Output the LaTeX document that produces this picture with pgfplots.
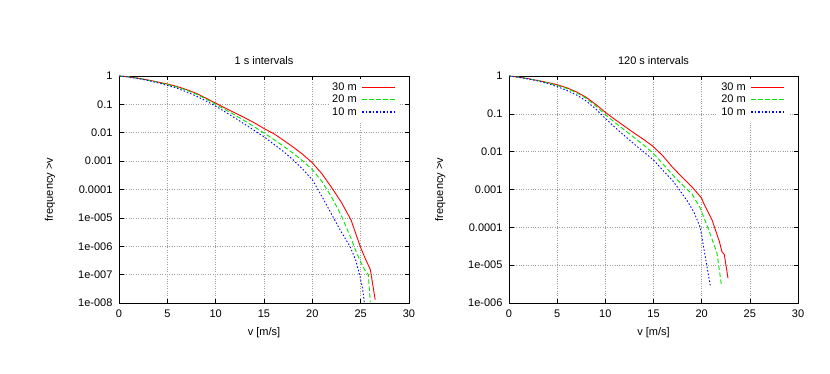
\documentclass[border=0pt]{standalone}
\usepackage{pgfplots}
\pgfplotsset{compat=1.18}
\usepackage{fontspec}
\setmainfont{Liberation Sans}
\definecolor{gpred}{rgb}{1,0,0}
\definecolor{gpgreen}{rgb}{0,0.9,0}
\definecolor{gpblue}{rgb}{0,0,1}
\pgfplotstableread{
v f
0 1
1 0.933
2 0.832
3 0.724
4 0.617
5 0.525
6 0.427
7 0.331
8 0.245
9 0.166
10 0.110
11 0.0741
12 0.0501
13 0.0339
14 0.0224
15 0.0141
16 0.00933
17 0.00550
18 0.00316
19 0.00174
20 0.000871
21 0.000355
22 0.000117
23 3.55e-5
24 8.51e-6
25 8.91e-7
25.5 3.55e-7
26 1.51e-7
26.5 1.32e-8
}\Lred
\pgfplotstableread{
v f
0 1
1 0.933
2 0.832
3 0.708
4 0.603
5 0.501
6 0.407
7 0.316
8 0.229
9 0.155
10 0.100
11 0.0646
12 0.0417
13 0.0263
14 0.0162
15 0.00977
16 0.00589
17 0.00339
18 0.00191
19 0.00102
20 0.000501
21 0.000191
22 5.37e-5
23 1.20e-5
24 1.91e-6
24.6 5.62e-7
25.0 2.82e-7
25.37 1.55e-7
25.79 1.00e-7
26.0 1.07e-8
}\Lgreen
\pgfplotstableread{
v f
0 1
1 0.923
2 0.813
3 0.692
4 0.575
5 0.468
6 0.372
7 0.275
8 0.195
9 0.132
10 0.0871
11 0.0537
12 0.0331
13 0.0200
14 0.0120
15 0.00724
16 0.00398
17 0.00219
18 0.00112
19 0.000525
20 0.000219
21 5.62e-5
22 1.32e-5
23 3.16e-6
23.9 9.77e-7
24.5 3.16e-7
24.93 8.51e-8
25.2 3.16e-8
25.38 1.07e-8
}\Lblue
\pgfplotstableread{
v f
0 1
1 0.933
2 0.851
3 0.759
4 0.676
5 0.589
6 0.490
7 0.380
8 0.275
9 0.178
10 0.110
11 0.0708
12 0.0468
13 0.0309
14 0.0209
15 0.0135
16 0.00759
17 0.00380
18 0.00209
19 0.00117
20 0.000589
20.2 0.000437
21.07 0.000158
21.83 4.27e-5
22.1 2.29e-5
22.35 1.91e-5
22.73 4.57e-6
}\Rred
\pgfplotstableread{
v f
0 1
1 0.933
2 0.851
3 0.759
4 0.661
5 0.562
6 0.468
7 0.363
8 0.257
9 0.162
10 0.0955
11 0.0589
12 0.0372
13 0.0234
14 0.0148
15 0.00891
16 0.00468
17 0.00240
18 0.00132
19 0.000759
19.85 0.000324
20.72 8.71e-5
21.59 2.09e-5
22.04 3.09e-6
}\Rgreen
\pgfplotstableread{
v f
0 1
1 0.923
2 0.832
3 0.741
4 0.631
5 0.525
6 0.417
7 0.316
8 0.219
9 0.135
10 0.0759
11 0.0437
12 0.0263
13 0.0158
14 0.00977
15 0.00603
16 0.00316
17 0.00170
17.6 0.00105
18.5 0.000501
19.2 0.000251
19.85 0.0001
20.37 1.70e-5
20.9 2.88e-6
}\Rblue
\tikzset{
  gred/.style={color=gpred, solid, line width=0.9pt},
  ggreen/.style={color=gpgreen, dash pattern=on 4.5pt off 2.5pt, line width=0.9pt},
  gblue/.style={color=gpblue, dash pattern=on 1.5pt off 2pt, line width=0.9pt},
}
\pgfplotsset{
  myax/.style={
    scale only axis, width=290pt, height=227pt, anchor=south west,
    font=\fontsize{11}{13}\selectfont,
    xmin=0, xmax=30, ymax=1,
    xtick={0,5,10,15,20,25,30}, xticklabels={0,5,10,15,20,25,30},
    grid=major, major grid style={gray!75, dotted, line width=0.6pt},
    axis line style={line width=0.8pt},
    tick style={black, line width=0.6pt}, major tick length=4.5pt, minor tick length=2.5pt,
    tick align=inside,
    /pgf/number format/assume math mode=true,
    xlabel={v [m/s]}, ylabel={frequency >v},
    xlabel style={at={(axis description cs:0.5,-0.1322)}, anchor=center},
    ylabel style={at={(axis description cs:-0.2379,0.5)}, anchor=center},
    title style={at={(axis description cs:0.5,1.0749)}, anchor=center, yshift=-8pt},
    yticklabel style={xshift=-3pt}, xticklabel style={yshift=-3pt},
    legend style={at={(1,1)}, anchor=north east,
      xshift=-11pt, yshift=-3pt, legend cell align=right,
      draw=white, fill=white, inner sep=2pt, column sep=3.5pt,
      nodes={inner sep=1.2pt, text height=8pt, text depth=2pt},
      font=\fontsize{11}{13}\selectfont},
    legend plot pos=right,
  },
  lgred/.style={legend image code/.code={\draw[draw=gpred, solid, line width=1.4pt] (0pt,0pt) -- (33pt,0pt);}},
  lggreen/.style={legend image code/.code={\draw[draw=gpgreen, dash pattern=on 4.5pt off 2.5pt, line width=1.4pt] (0pt,0pt) -- (33pt,0pt);}},
  lgblue/.style={legend image code/.code={\draw[draw=gpblue, dash pattern=on 1.5pt off 2pt, line width=1.4pt] (0pt,0pt) -- (33pt,0pt);}},
}
\begin{document}
\begin{tikzpicture}
\useasboundingbox (0,0) rectangle (830pt,374pt);
\begin{semilogyaxis}[myax, at={(119pt,71pt)}, ymin=1e-8,
  title={1 s intervals},
  ytick={1,0.1,0.01,0.001,0.0001,1e-5,1e-6,1e-7,1e-8},
  yticklabels={1,0.1,0.01,0.001,0.0001,1e-005,1e-006,1e-007,1e-008}]
\addlegendimage{lgred}
\addlegendentry{30 m}
\addlegendimage{lggreen}
\addlegendentry{20 m}
\addlegendimage{lgblue}
\addlegendentry{10 m}
\addplot[gred, forget plot] table[x=v,y=f] {\Lred};
\addplot[ggreen, forget plot] table[x=v,y=f] {\Lgreen};
\addplot[gblue, forget plot] table[x=v,y=f] {\Lblue};
\end{semilogyaxis}
\begin{semilogyaxis}[myax, at={(509pt,71pt)}, width=289pt, ymin=1e-6,
  title={120 s intervals},
  ytick={1,0.1,0.01,0.001,0.0001,1e-5,1e-6},
  yticklabels={1,0.1,0.01,0.001,0.0001,1e-005,1e-006}]
\addlegendimage{lgred}
\addlegendentry{30 m}
\addlegendimage{lggreen}
\addlegendentry{20 m}
\addlegendimage{lgblue}
\addlegendentry{10 m}
\addplot[gred, forget plot] table[x=v,y=f] {\Rred};
\addplot[ggreen, forget plot] table[x=v,y=f] {\Rgreen};
\addplot[gblue, forget plot] table[x=v,y=f] {\Rblue};
\end{semilogyaxis}
\end{tikzpicture}
\end{document}
